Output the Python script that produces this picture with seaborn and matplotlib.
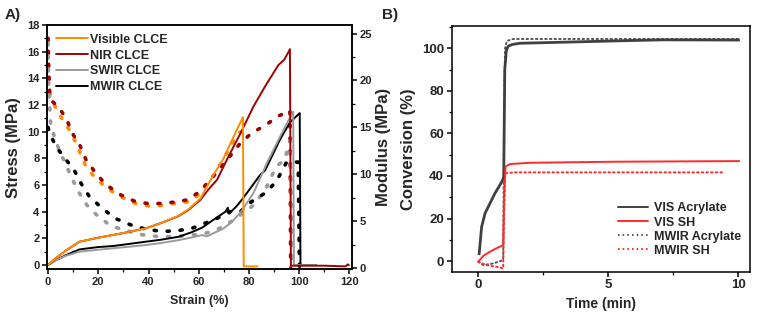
import numpy as np
import pandas as pd
import seaborn as sns
import matplotlib
matplotlib.use("Agg")
import matplotlib.pyplot as plt
from matplotlib.lines import Line2D
from matplotlib.ticker import MultipleLocator

# ---------------- Panel A data: stress (left axis) ----------------
vis_strain = [0, 3, 7.2, 12.5, 20, 25.7, 30, 38.9, 45, 52, 56, 60.7, 63, 66, 69.9, 73.8, 77.6, 77.9, 83.7]
vis_stress = [0, 0.5, 1.1, 1.75, 2.05, 2.25, 2.4, 2.75, 3.15, 3.7, 4.2, 5.0, 5.8, 6.8, 8.0, 9.6, 11.1, -0.1, -0.1]

nir_strain = [0, 3, 7.2, 12.5, 20, 25.7, 30, 38.9, 45, 52, 56, 60.7, 64, 67.3, 71.2, 77.2, 81.8, 86.4, 91.7, 94, 95.5, 96.3, 96.7, 110, 118.5, 119.3, 120]
nir_stress = [0, 0.5, 1.1, 1.75, 2.05, 2.25, 2.4, 2.75, 3.15, 3.67, 4.15, 4.9, 5.7, 6.4, 7.9, 10.1, 11.9, 13.4, 15.0, 15.4, 15.9, 16.2, -0.05, -0.05, -0.1, 0.05, -0.05]

swir_strain = [0, 3, 7.2, 12.5, 20, 25.7, 38.9, 45, 52, 58, 61.3, 63.3, 66, 69.9, 73, 76.5, 81.8, 87, 92.3, 95, 97.6, 97.9, 107]
swir_stress = [0, 0.35, 0.7, 1.0, 1.15, 1.25, 1.5, 1.65, 1.87, 2.1, 2.25, 2.15, 2.4, 2.75, 3.2, 3.9, 5.4, 7.6, 9.6, 10.6, 11.5, 0.0, 0.0]

mwir_strain = [0, 3, 7.2, 12.5, 20, 25.7, 38.9, 45, 52, 57, 61.3, 65.9, 70.6, 71.6, 72.1, 75, 77.2, 81.1, 84.4, 86.4, 89, 92.3, 96.3, 100.2, 100.5, 107]
mwir_stress = [0, 0.35, 0.75, 1.17, 1.35, 1.42, 1.75, 1.9, 2.12, 2.45, 2.8, 3.4, 4.0, 4.3, 3.85, 4.4, 4.9, 5.9, 6.75, 7.1, 8.1, 9.4, 10.7, 11.4, 0.0, 0.0]

# ---------------- Panel A data: modulus (right axis) ----------------
vis_mod_strain = [0, 0.3, 1.3, 3.3, 6.2, 9.4, 11.9, 14.8, 18.2, 23, 29, 34.7, 40.5, 45.5, 50.8, 56.7, 60.3, 66, 71.9, 75.8, 77.6]
vis_mod = [20.0, 19.0, 17.9, 17.0, 15.6, 14.4, 12.8, 11.0, 9.8, 8.6, 7.6, 6.9, 6.6, 6.7, 6.9, 7.1, 7.9, 9.9, 12.6, 14.4, 14.6]

nir_mod_strain = [0, 0.3, 0.8, 4, 7.2, 9.6, 12.5, 15.2, 18.8, 23, 29, 34.7, 40.5, 45.5, 50.8, 56, 60.7, 64.6, 71.2, 76.5, 81.1, 86.4, 91.7, 96.3, 96.6]
nir_mod = [24.5, 21.0, 18.0, 17.2, 16.0, 14.4, 13.2, 11.5, 10.2, 8.9, 7.8, 7.1, 6.85, 6.9, 7.05, 7.3, 8.25, 9.4, 11.5, 13.3, 14.4, 15.2, 16.2, 16.8, 0.0]

swir_mod_strain = [0, 0.3, 1.0, 2.5, 4, 9.2, 12.1, 15.5, 19.8, 25, 31, 37.6, 44.2, 50.8, 57.4, 60.7, 67.3, 73.8, 81.8, 86.4, 90.8, 94.3, 96.3, 97.4]
swir_mod = [24.0, 19.0, 15.5, 14.0, 12.9, 9.75, 8.15, 6.7, 5.55, 4.5, 4.0, 3.55, 3.35, 3.35, 3.55, 3.55, 4.1, 5.1, 6.7, 8.3, 10.8, 11.6, 13.6, 0.0]

mwir_mod_strain = [0, 0.6, 3.3, 7.6, 10.3, 13.2, 16.5, 21.5, 26.7, 33, 38.9, 45.5, 52, 57.4, 62.6, 67.3, 71.9, 76.5, 81.1, 86.4, 90.8, 95, 99.6, 100.1]
mwir_mod = [15.0, 14.4, 12.9, 11.4, 10.5, 9.0, 7.6, 6.4, 5.3, 4.6, 4.15, 3.9, 4.0, 4.25, 4.8, 5.3, 6.0, 6.0, 7.1, 8.0, 9.2, 11.3, 11.3, 0.0]

# ---------------- Panel B data: conversion ----------------
vis_acr_t = [0.03, 0.13, 0.26, 0.45, 0.64, 0.83, 0.94, 0.98, 1.02, 1.08, 1.15, 1.3, 1.6, 2.63, 4.94, 7.1, 10.06]
vis_acr_c = [2.8, 16.1, 22.4, 27.1, 31.8, 35.7, 38.1, 39.5, 90.0, 99.0, 101.0, 101.8, 102.4, 102.7, 103.4, 104.0, 103.9]

vis_sh_t = [0, 0.19, 0.45, 0.7, 0.96, 0.99, 1.05, 1.22, 1.99, 5.2, 10.06]
vis_sh_c = [-0.3, 2.4, 4.4, 6.0, 7.5, 30.0, 44.4, 45.6, 46.2, 46.7, 47.0]

mwir_acr_t = [0, 0.19, 0.58, 0.96, 0.99, 1.03, 1.1, 1.35, 10.0]
mwir_acr_c = [-0.3, -1.9, -1.1, 0.5, 60.0, 100.0, 103.5, 104.4, 104.4]

mwir_sh_t = [0, 0.32, 0.7, 0.96, 0.99, 1.04, 1.35, 9.42]
mwir_sh_c = [-0.3, -1.9, -2.7, -3.4, 20.0, 41.2, 41.7, 41.7]

labels_a = ["Visible CLCE", "NIR CLCE", "SWIR CLCE", "MWIR CLCE"]
labels_b = ["VIS Acrylate", "VIS SH", "MWIR Acrylate", "MWIR SH"]

# ---------------- styling ----------------
sns.set_theme(style="white")
plt.rcParams["font.family"] = ["Liberation Sans", "DejaVu Sans"]
plt.rcParams["font.weight"] = "bold"
plt.rcParams["axes.labelweight"] = "bold"
plt.rcParams["axes.edgecolor"] = "black"
plt.rcParams["axes.linewidth"] = 1.1

c_vis, c_nir, c_swir, c_mwir = "#FF8C00", "#A00000", "#9A9A9A", "#000000"
c_acr, c_red = "#404040", "#FF2A2A"
dotted = (0, (0.6, 3.0))
fine_dot = (0, (0.8, 1.6))

fig = plt.figure(figsize=(7.61, 3.18), dpi=100)
axA = fig.add_axes([0.0618, 0.154, 0.4007, 0.767])
axR = axA.twinx()
axB = fig.add_axes([0.5936, 0.1456, 0.3919, 0.7726])


def line(ax, x, y, color, lw=1.4, ls="-", z=2):
    df = pd.DataFrame({"x": x, "y": y})
    sns.lineplot(data=df, x="x", y="y", ax=ax, color=color, linewidth=lw,
                 linestyle=ls, sort=False, estimator=None, legend=False,
                 zorder=z, dash_capstyle="round", solid_capstyle="butt")


# modulus dotted (right axis)
for x, y, c in [(vis_mod_strain, vis_mod, c_vis), (nir_mod_strain, nir_mod, c_nir),
                (swir_mod_strain, swir_mod, c_swir), (mwir_mod_strain, mwir_mod, c_mwir)]:
    line(axR, x, y, c, lw=2.6, ls=dotted)

# stress solid (left axis)
for x, y, c in [(mwir_strain, mwir_stress, c_mwir), (swir_strain, swir_stress, c_swir),
                (nir_strain, nir_stress, c_nir), (vis_strain, vis_stress, c_vis)]:
    line(axA, x, y, c, lw=1.4)

axA.set_zorder(axR.get_zorder() + 1)
axA.patch.set_visible(False)

axA.set_xlim(-0.4, 121)
axA.set_ylim(-0.3, 18)
axR.set_ylim(-0.1, 25.9)
axA.xaxis.set_major_locator(MultipleLocator(20))
axA.xaxis.set_minor_locator(MultipleLocator(10))
axA.yaxis.set_major_locator(MultipleLocator(2))
axA.yaxis.set_minor_locator(MultipleLocator(1))
axR.yaxis.set_major_locator(MultipleLocator(5))
axR.yaxis.set_minor_locator(MultipleLocator(2.5))

axA.set_xlabel("Strain (%)", fontsize=9, fontweight="bold", labelpad=6)
axA.set_ylabel("Stress (MPa)", fontsize=12, fontweight="bold", labelpad=4)
axR.set_ylabel("Modulus (MPa)", fontsize=12, fontweight="bold", labelpad=3)

# Panel B
line(axB, mwir_acr_t, mwir_acr_c, "#555555", lw=1.4, ls=fine_dot, z=2)
line(axB, mwir_sh_t, mwir_sh_c, c_red, lw=1.4, ls=fine_dot, z=2)
line(axB, vis_acr_t, vis_acr_c, c_acr, lw=2.0, z=3)
line(axB, vis_sh_t, vis_sh_c, c_red, lw=1.4, z=3)

axB.set_xlim(-1.02, 10.45)
axB.set_ylim(-5, 110.5)
axB.xaxis.set_major_locator(MultipleLocator(5))
axB.xaxis.set_minor_locator(MultipleLocator(2.5))
axB.yaxis.set_major_locator(MultipleLocator(20))
axB.yaxis.set_minor_locator(MultipleLocator(10))
axB.set_xlabel("Time (min)", fontsize=10, fontweight="bold", labelpad=4)
axB.set_ylabel("Conversion (%)", fontsize=12, fontweight="bold", labelpad=4)

for ax, ls in ((axA, 8), (axR, 8), (axB, 9.5)):
    for s in ax.spines.values():
        s.set_visible(True)
        s.set_color("black")
        s.set_linewidth(1.1)
    ax.tick_params(which="major", direction="out", length=3.5, width=1.1,
                   labelsize=ls, color="black", pad=2)
    ax.tick_params(which="minor", direction="out", length=2, width=0.9, color="black")
    for t in ax.get_xticklabels() + ax.get_yticklabels():
        t.set_fontweight("bold")
axA.tick_params(which="both", left=True, bottom=True, right=False, top=False)
axR.tick_params(which="both", right=True, left=False)
axB.tick_params(which="both", left=True, bottom=True, right=False, top=False)

# legends
hA = [Line2D([], [], color=c, lw=1.4) for c in (c_vis, c_nir, c_swir, c_mwir)]
axA.legend(hA, labels_a, loc="upper left", frameon=False,
           handlelength=2.55, handletextpad=0.15, labelspacing=0.3,
           borderaxespad=0.3, bbox_to_anchor=(0.0, 1.0),
           prop={"weight": "bold", "size": 9})
hB = [Line2D([], [], color=c_acr, lw=1.4), Line2D([], [], color=c_red, lw=1.4),
      Line2D([], [], color="#555555", lw=1.4, ls=fine_dot),
      Line2D([], [], color=c_red, lw=1.4, ls=fine_dot)]
axB.legend(hB, labels_b, loc="lower right", frameon=False,
           handlelength=2.4, handletextpad=0.45, labelspacing=0.17,
           borderaxespad=0.3, bbox_to_anchor=(1.0, 0.025),
           prop={"weight": "bold", "size": 9})

fig.text(0.006, 0.975, "A)", fontsize=11, fontweight="bold", va="top", ha="left")
fig.text(0.502, 0.975, "B)", fontsize=11, fontweight="bold", va="top", ha="left")

fig.savefig("out.png", dpi=100)
